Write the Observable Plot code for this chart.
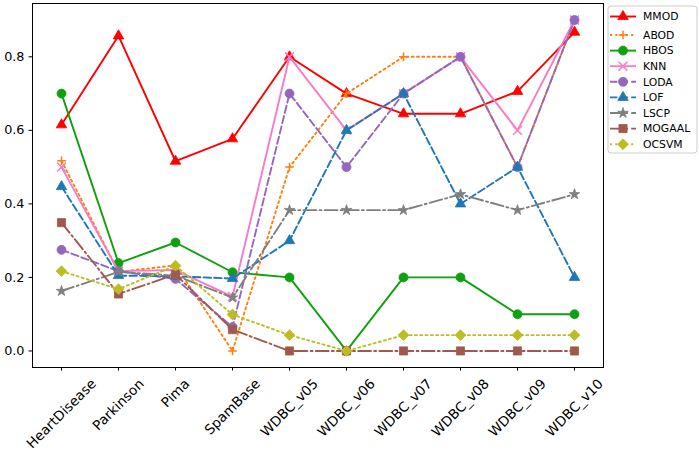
<!DOCTYPE html>
<html>
<head>
<meta charset="utf-8">
<script src="https://cdn.jsdelivr.net/npm/d3@7"></script>
<script src="https://cdn.jsdelivr.net/npm/@observablehq/plot@0.6"></script>
<style>
  html, body { margin: 0; padding: 0; background: white; }
  #wrap { position: relative; width: 699px; height: 453px; background: white; }
  #legend { position: absolute; left: 0; top: 0; }
</style>
</head>
<body>
<div id="wrap"></div>
<script>
const categories = ["HeartDisease","Parkinson","Pima","SpamBase","WDBC_v05","WDBC_v06","WDBC_v07","WDBC_v08","WDBC_v09","WDBC_v10"];
const seriesNames = ["MMOD","ABOD","HBOS","KNN","LODA","LOF","LSCP","MOGAAL","OCSVM"];

const MMOD   = [0.615, 0.857, 0.516, 0.577, 0.800, 0.700, 0.645, 0.645, 0.706, 0.867];
const ABOD   = [0.517, 0.215, 0.233, 0.000, 0.500, 0.700, 0.800, 0.800, 0.500, 0.900];
const HBOS   = [0.700, 0.239, 0.295, 0.214, 0.200, 0.000, 0.200, 0.200, 0.100, 0.100];
const KNN    = [0.500, 0.217, 0.220, 0.148, 0.800, 0.600, 0.700, 0.800, 0.600, 0.900];
const LODA   = [0.275, 0.217, 0.196, 0.065, 0.700, 0.500, 0.700, 0.800, 0.500, 0.900];
const LOF    = [0.447, 0.205, 0.203, 0.197, 0.300, 0.600, 0.700, 0.400, 0.500, 0.200];
const LSCP   = [0.163, 0.215, 0.205, 0.145, 0.383, 0.383, 0.383, 0.426, 0.383, 0.426];
const MOGAAL = [0.349, 0.155, 0.208, 0.058, 0.000, 0.000, 0.000, 0.000, 0.000, 0.000];
const OCSVM  = [0.217, 0.168, 0.232, 0.099, 0.043, 0.000, 0.043, 0.043, 0.043, 0.043];

const yTicks = [0.0, 0.2, 0.4, 0.6, 0.8];

const values = {MMOD, ABOD, HBOS, KNN, LODA, LOF, LSCP, MOGAAL, OCSVM};

// styles
const colors = {MMOD:"#ff0000", ABOD:"#ff7f0e", HBOS:"#0fa00f", KNN:"#f77bc6", LODA:"#9467bd", LOF:"#1f77b4", LSCP:"#7f7f7f", MOGAAL:"#a0594e", OCSVM:"#bcbd22"};
const DASHED = "7.4,3.2", DOTTED = "2,3.3", DASHDOT = "12.8,3.2,2,3.2";
const dashes = {MMOD:null, ABOD:DOTTED, HBOS:null, KNN:null, LODA:DASHED, LOF:DASHED, LSCP:DASHDOT, MOGAAL:DASHDOT, OCSVM:DOTTED};
const symbols = {MMOD:"triangle", ABOD:"plus", HBOS:"circle", KNN:"times", LODA:"circle", LOF:"triangle", LSCP:"star", MOGAAL:"square", OCSVM:"diamond2"};
const radii = {triangle:3.9, plus:2.9, circle:4.5, times:4.1, star:3.3, square:4.6, diamond2:4.9};
const strokeOnly = {plus:true, times:true};

const rows = seriesNames.map(s => categories.map((c, i) => ({series: s, cat: c, v: values[s][i]})));

// measure text widths for centered rotated labels (matplotlib ha=center)
const fs = 12.8;
const fx = 13.6;
const ctx = document.createElement("canvas").getContext("2d");
ctx.font = `${fx}px "DejaVu Sans"`;

const marks = [];
rows.forEach((data, k) => {
  const s = seriesNames[k];
  const sym = symbols[s];
  marks.push(Plot.line(data, {x: "cat", y: "v", stroke: colors[s], strokeWidth: 1.9, strokeDasharray: dashes[s] || undefined}));
  marks.push(Plot.dot(data, {
    x: "cat", y: "v", symbol: sym, r: radii[sym],
    fill: strokeOnly[sym] ? "none" : colors[s],
    stroke: colors[s], strokeWidth: strokeOnly[sym] ? 1.5 : 0.8
  }));
});

marks.push(Plot.frame({stroke: "black", strokeWidth: 1}));
marks.push(Plot.axisY({ticks: yTicks, tickFormat: d3.format(".1f"), tickSize: 3.5, tickPadding: 4.5, fontSize: fs, label: null}));
marks.push(Plot.axisX({tickSize: 3.5, tickFormat: () => "", label: null}));
categories.forEach(c => {
  const w = ctx.measureText(c).width;
  const half = (w + 1.164 * fx) * Math.SQRT1_2 / 2;
  marks.push(Plot.text([c], {x: d => d, frameAnchor: "bottom", rotate: -45, textAnchor: "middle", lineAnchor: "middle", dy: 8.5 + half, fontSize: fx, fill: "black"}));
});

const chart = Plot.plot({
  width: 699,
  height: 453,
  marginLeft: 32,
  marginRight: 96,
  marginTop: 3,
  marginBottom: 86,
  style: {fontFamily: "'DejaVu Sans'", fontSize: `${fs}px`, background: "white", color: "black", overflow: "visible"},
  x: {type: "point", domain: categories, padding: 0.46, label: null},
  y: {domain: [-0.045, 0.945], label: null},
  marks
});
document.getElementById("wrap").appendChild(chart);

// legend
const lg = d3.select("#wrap").append("svg").attr("id", "legend").attr("width", 699).attr("height", 453);
lg.append("rect").attr("x", 608).attr("y", 6).attr("width", 89).attr("height", 147).attr("rx", 3)
  .attr("fill", "white").attr("fill-opacity", 0.8).attr("stroke", "#cccccc").attr("stroke-width", 1);
const d3sym = {triangle: d3.symbolTriangle, plus: d3.symbolPlus, circle: d3.symbolCircle, times: d3.symbolTimes, star: d3.symbolStar, square: d3.symbolSquare, diamond2: d3.symbolDiamond2};
seriesNames.forEach((s, i) => {
  const y = i === 0 ? 16.5 : 35 + (i - 1) * 15.6;
  const sym = symbols[s];
  const g = lg.append("g");
  g.append("line").attr("x1", 610).attr("x2", 636).attr("y1", y).attr("y2", y)
    .attr("stroke", colors[s]).attr("stroke-width", 1.9).attr("stroke-dasharray", dashes[s]);
  const r = radii[sym];
  g.append("path").attr("d", d3.symbol(d3sym[sym], Math.PI * r * r)())
    .attr("transform", `translate(623,${y})`)
    .attr("fill", strokeOnly[sym] ? "none" : colors[s])
    .attr("stroke", colors[s]).attr("stroke-width", strokeOnly[sym] ? 1.5 : 0.8);
  g.append("text").attr("x", 643).attr("y", y).attr("dy", "0.35em")
    .attr("font-family", "'DejaVu Sans'").attr("font-size", 10.8).attr("fill", "black").text(s);
});
</script>
</body>
</html>
